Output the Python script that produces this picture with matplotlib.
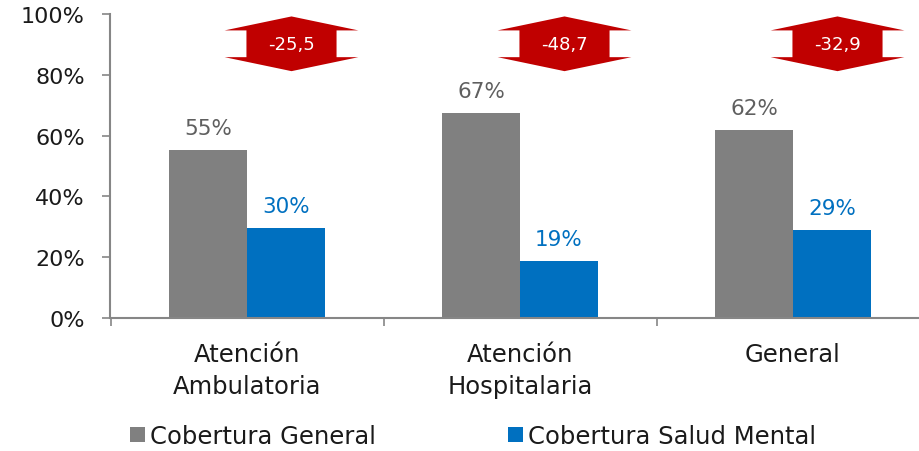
import matplotlib
matplotlib.use("Agg")
import matplotlib.pyplot as plt
from matplotlib.patches import Polygon
import numpy as np

categories = ["Atención\nAmbulatoria", "Atención\nHospitalaria", "General"]
cobertura_general = [55.1, 67.3, 61.8]
cobertura_salud_mental = [29.6, 18.6, 28.9]
series_names = ["Cobertura General", "Cobertura Salud Mental"]
y_ticks = [0, 20, 40, 60, 80, 100]

GRAY = "#808080"
BLUE = "#0070C0"
RED = "#C00000"
AXIS = "#868686"
TXT = "#1a1a1a"

plt.rcParams['font.family'] = ['DejaVu Sans']

fig = plt.figure(figsize=(9.2, 4.52), dpi=100)
ax = fig.add_axes([110.5 / 920, 133 / 452, 819 / 920, 304 / 452])

x = np.arange(len(categories))
w = 0.285
b1 = ax.bar(x - w / 2, cobertura_general, w, color=GRAY, label=series_names[0])
b2 = ax.bar(x + w / 2, cobertura_salud_mental, w, color=BLUE, label=series_names[1])

for xi, v in zip(x - w / 2, cobertura_general):
    ax.text(xi, v + 5.4, f"{round(v)}%", ha="center", va="baseline", fontsize=15.5, color="#5f5f5f")
for xi, v in zip(x + w / 2, cobertura_salud_mental):
    ax.text(xi, v + 5.4, f"{round(v)}%", ha="center", va="baseline", fontsize=15.5, color=BLUE)

# double arrows with the difference
cy, hh, head = 90.2, 9.0, 4.6
hw_head, hw_body = 0.245, 0.165
for xi, g, s in zip(x, cobertura_general, cobertura_salud_mental):
    cx = xi + 0.163
    pts = [
        (cx, cy + hh),
        (cx + hw_head, cy + hh - head),
        (cx + hw_body, cy + hh - head),
        (cx + hw_body, cy - hh + head),
        (cx + hw_head, cy - hh + head),
        (cx, cy - hh),
        (cx - hw_head, cy - hh + head),
        (cx - hw_body, cy - hh + head),
        (cx - hw_body, cy + hh - head),
        (cx - hw_head, cy + hh - head),
    ]
    ax.add_patch(Polygon(pts, closed=True, facecolor=RED, edgecolor="none", clip_on=False))
    diff = f"{s - g:.1f}".replace(".", ",")
    ax.text(cx, cy, diff, ha="center", va="center", fontsize=13, color="white")

ax.set_xlim(-0.5, 2.5)
ax.set_ylim(0, 100)
ax.set_yticks(y_ticks)
ax.set_yticklabels([f"{t}%" for t in y_ticks], fontsize=16, color=TXT)
ax.set_xticks(np.arange(-0.5, len(categories), 1.0))
ax.set_xticklabels([])
ax.set_xticks(x, minor=True)
ax.set_xticklabels(categories, minor=True, fontsize=17.5, color=TXT, linespacing=1.45)
ax.tick_params(axis="x", which="minor", length=0, pad=17)
ax.tick_params(axis="x", which="major", length=6, color=AXIS, width=1.2)
ax.tick_params(axis="y", length=6, color=AXIS, width=1.2, pad=12.5)

for sp in ["top", "right"]:
    ax.spines[sp].set_visible(False)
for sp in ["left", "bottom"]:
    ax.spines[sp].set_color(AXIS)
    ax.spines[sp].set_linewidth(1.5)

fig.legend(handles=[b1, b2], labels=series_names, loc="center left",
           bbox_to_anchor=(130 / 920, 15 / 452), ncol=2, frameon=False,
           fontsize=17.5, handlelength=0.62, handleheight=0.62,
           handletextpad=0.2, columnspacing=5.45, borderaxespad=0, borderpad=0,
           labelcolor=TXT)

fig.savefig("out.png", dpi=100)
